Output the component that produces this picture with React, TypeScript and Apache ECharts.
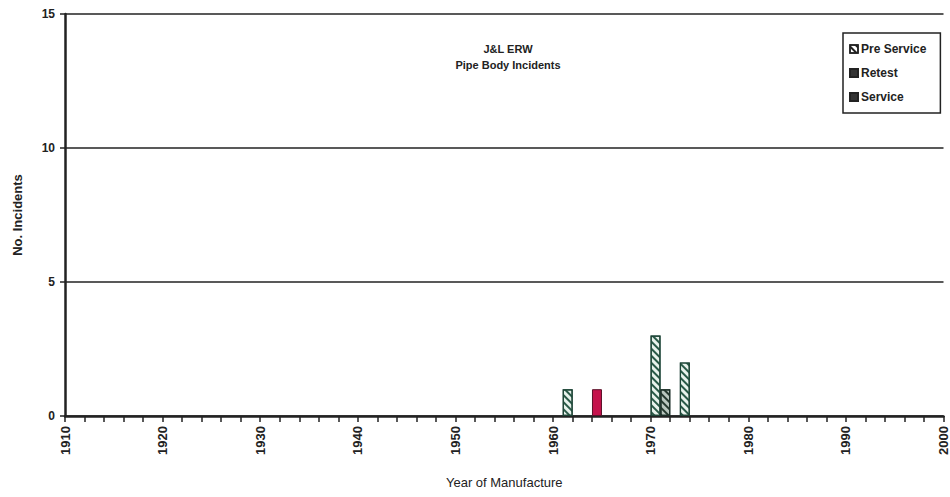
import React, { useEffect, useRef } from "react";
import * as echarts from "echarts";

const preServiceYears = [1961, 1970, 1973];
const preServiceValues = [1, 3, 2];
const retestYears = [1971];
const retestValues = [1];
const serviceYears = [1964];
const serviceValues = [1];
const yTicks = [0, 5, 10, 15];

const FONT = "'Liberation Sans Narrow', 'Liberation Sans', Arial, sans-serif";

const toData = (years: number[], vals: number[]) =>
  years.map((y, i) => [y + 0.5, vals[i]]);

export default function App() {
  const ref = useRef<HTMLDivElement>(null);
  useEffect(() => {
    if (!ref.current) return;
    const chart = echarts.init(ref.current, null, { renderer: "svg" });
    const hatch = (color: string) => ({
      symbol: "rect",
      symbolSize: 1,
      dashArrayX: [1, 0],
      dashArrayY: [2, 3],
      rotation: Math.PI / 4,
      color,
    });
    chart.setOption({
      animation: false,
      backgroundColor: "#ffffff",
      textStyle: { fontFamily: FONT },
      title: {
        text: "J&L ERW\nPipe Body Incidents",
        left: 503,
        top: 36,
        textAlign: "center",
        textStyle: {
          fontFamily: FONT,
          fontSize: 11,
          fontWeight: "bold",
          color: "#222",
          lineHeight: 16,
        },
      },
      legend: {
        orient: "vertical",
        left: 843,
        top: 33,
        icon: "rect",
        itemWidth: 8,
        itemHeight: 8,
        itemGap: 12,
        padding: [10, 14, 10, 6],
        borderColor: "#222",
        borderWidth: 1.5,
        backgroundColor: "#fff",
        textStyle: { fontFamily: FONT, fontSize: 12, fontWeight: "bold", color: "#222", padding: [0, 0, 0, -2] },
        data: [
          { name: "Pre Service", itemStyle: { color: "#fff", borderColor: "#222", borderWidth: 1.5, decal: hatch("#222") } },
          { name: "Retest", itemStyle: { color: "#333", borderColor: "#222", decal: "none" } },
          { name: "Service", itemStyle: { color: "#333", borderColor: "#222", decal: "none" } },
        ],
      },
      grid: { left: 65, right: 2, top: 14, bottom: 81 },
      xAxis: {
        type: "value",
        min: 1910,
        max: 2000,
        interval: 2,
        name: "Year of Manufacture",
        nameLocation: "middle",
        nameGap: 60,
        nameTextStyle: { fontFamily: FONT, fontSize: 13, color: "#222" },
        axisLine: { show: true, onZero: false, lineStyle: { color: "#222", width: 2.5 } },
        axisTick: { show: true, length: 6, lineStyle: { color: "#222", width: 1.5 } },
        splitLine: { show: false },
        axisLabel: {
          rotate: 90,
          margin: 10,
          fontFamily: FONT,
          fontSize: 13,
          fontWeight: "bold",
          color: "#222",
          formatter: (v: number) => (v % 10 === 0 ? String(v) : ""),
        },
      },
      yAxis: {
        type: "value",
        min: 0,
        max: 15,
        interval: 5,
        name: "No. Incidents",
        nameLocation: "middle",
        nameGap: 41,
        nameTextStyle: { fontFamily: FONT, fontSize: 13, fontWeight: "bold", color: "#222" },
        axisLine: { show: true, lineStyle: { color: "#222", width: 2.5 } },
        axisTick: { show: true, length: 5, lineStyle: { color: "#222", width: 1.5 } },
        splitLine: { show: true, lineStyle: { color: "#222", width: 1.5 } },
        axisLabel: {
          margin: 10,
          fontFamily: FONT,
          fontSize: 12,
          fontWeight: "bold",
          color: "#222",
          formatter: (v: number) => (yTicks.includes(v) ? String(v) : ""),
        },
      },
      series: [
        {
          name: "Pre Service",
          type: "bar",
          barWidth: 10,
          barGap: "-100%",
          data: toData(preServiceYears, preServiceValues),
          itemStyle: {
            color: "#e8f2ec",
            borderColor: "#1d4436",
            borderWidth: 1.2,
            decal: hatch("#2a5a48"),
          },
        },
        {
          name: "Retest",
          type: "bar",
          barWidth: 10,
          barGap: "-100%",
          data: toData(retestYears, retestValues),
          itemStyle: {
            color: "#b9c6be",
            borderColor: "#1d3029",
            borderWidth: 1.2,
            decal: hatch("#26392f"),
          },
        },
        {
          name: "Service",
          type: "bar",
          barWidth: 10,
          barGap: "-100%",
          data: toData(serviceYears, serviceValues),
          itemStyle: {
            color: "#c4124c",
            borderColor: "#5a1028",
            borderWidth: 1,
          },
        },
      ],
    });
    return () => chart.dispose();
  }, []);
  return <div ref={ref} style={{ width: 950, height: 497, position: "absolute", left: 0, top: 0 }} />;
}
